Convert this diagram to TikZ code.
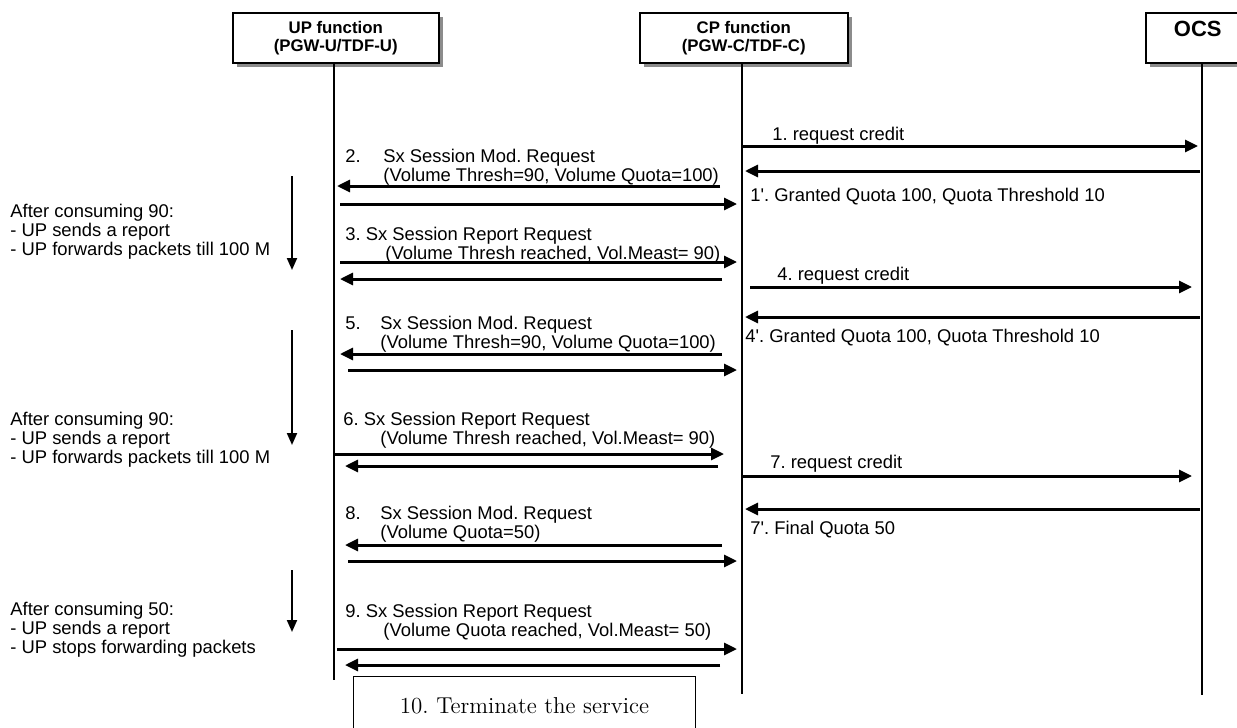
\documentclass[tikz,border=0pt]{standalone}
\usepackage{fontspec}
\newfontfamily\arial{Liberation Sans}
\usetikzlibrary{arrows.meta}
\usetikzlibrary{shadows}
\usetikzlibrary{calc}
\frenchspacing

\begin{document}
\begin{tikzpicture}[x=0.5pt,y=-0.5pt,
    party/.style={draw,line width=0.75pt,fill=white,anchor=north west,align=center,
        minimum height=25pt,inner sep=0pt,
        font=\arial\bfseries\fontsize{8.4}{9}\selectfont,
        drop shadow={shadow xshift=2pt,shadow yshift=-2pt,fill=black!45,opacity=1}},
    life/.style={line width=0.6pt},
    msg/.style={anchor=west,align=left,inner sep=0pt,font=\arial\fontsize{9.2}{9.6}\selectfont},
    sig/.style={line width=1.5pt,-{Triangle[length=6.5pt,width=6pt]}},
    down/.style={line width=1pt,-{Triangle[length=6pt,width=5pt]}}]
\useasboundingbox (0,0) rectangle (1237,728);

% the three parties
\node[party,minimum width=103pt] (up) at (232,12) {UP function\\(PGW-U/TDF-U)};
\node[party,minimum width=104pt] (cp) at (639,12) {CP function\\(PGW-C/TDF-C)};
\node[party,minimum width=52pt,text height=8pt,text depth=9pt,
    font=\arial\bfseries\fontsize{11}{12}\selectfont] (ocs) at (1145,12) {OCS};

% lifelines
\coordinate (upend) at (334,680);
\coordinate (cpend) at (742,694);
\coordinate (ocsend) at (1202,695);
\draw[life] (upend |- up.south) -- (upend);
\draw[life] (cpend |- cp.south) -- (cpend);
\draw[life] (ocsend |- ocs.south) -- (ocsend);

% signals
\foreach \n/\xa/\xb/\y in {m1/742/1198/146, m1b/1200/745/171,
    m2a/720/337/186, m2b/340/737/204, m3a/340/737/262, m3b/722/340/279,
    m4/750/1192/287, m4b/1200/745/317, m5a/722/340/354, m5b/348/737/370,
    m6a/333/724/454, m6b/718/345/466, m7/742/1192/476, m7b/1200/745/509,
    m8a/722/345/545, m8b/348/737/561, m9a/337/737/649, m9b/720/345/665}
{
    \coordinate (\n s) at (\xa,\y);
    \coordinate (\n e) at (\xb,\y);
    \draw[sig] (\n s) -- (\n e);
}

% labels of the signals
\node[msg] (l1) at (772,136) {1. request credit};
\node[msg] (l1b) at (750,197) {1'. Granted Quota 100, Quota Threshold 10};
\node[msg] (l2) at (345,167) {2.\hspace{11.3pt}Sx Session Mod. Request\\\hspace*{19pt}(Volume Thresh=90, Volume Quota=100)};
\node[msg] (l3) at (345,245) {3. Sx Session Report Request\\\hspace*{20pt}(Volume Thresh reached, Vol.Meast= 90)};
\node[msg] (l4) at (777,276) {4. request credit};
\node[msg] (l4b) at (745,338) {4'. Granted Quota 100, Quota Threshold 10};
\node[msg] (l5) at (345,334) {5.\hspace{9.8pt}Sx Session Mod. Request\\\hspace*{17.5pt}(Volume Thresh=90, Volume Quota=100)};
\node[msg] (l6) at (343,430) {6. Sx Session Report Request\\\hspace*{18.5pt}(Volume Thresh reached, Vol.Meast= 90)};
\node[msg] (l7) at (770,464) {7. request credit};
\node[msg] (l7b) at (750,530) {7'. Final Quota 50};
\node[msg] (l8) at (345,524) {8.\hspace{9.8pt}Sx Session Mod. Request\\\hspace*{17.5pt}(Volume Quota=50)};
\node[msg] (l9) at (345,622) {9. Sx Session Report Request\\\hspace*{19pt}(Volume Quota reached, Vol.Meast= 50)};

% what the UP does
\node[msg] (n1) at (10,232) {After consuming 90:\\- UP sends a report\\- UP forwards packets till 100 M};
\node[msg] (n2) at (10,440) {After consuming 90:\\- UP sends a report\\- UP forwards packets till 100 M};
\node[msg] (n3) at (10,630) {After consuming 50:\\- UP sends a report\\- UP stops forwarding packets};
\coordinate (d1s) at (292,176); \coordinate (d1e) at (292,270);
\coordinate (d2s) at (292,330); \coordinate (d2e) at (292,445);
\coordinate (d3s) at (292,570); \coordinate (d3e) at (292,632);
\draw[down] (d1s) -- (d1e);
\draw[down] (d2s) -- (d2e);
\draw[down] (d3s) -- (d3e);

% end
\node[draw,line width=0.5pt,anchor=north west,minimum width=171pt,minimum height=40pt,
    text height=8pt,text depth=11pt,font=\fontsize{11.5}{13}\selectfont] (term) at (353,676) {10. Terminate the service};
\end{tikzpicture}
\end{document}
